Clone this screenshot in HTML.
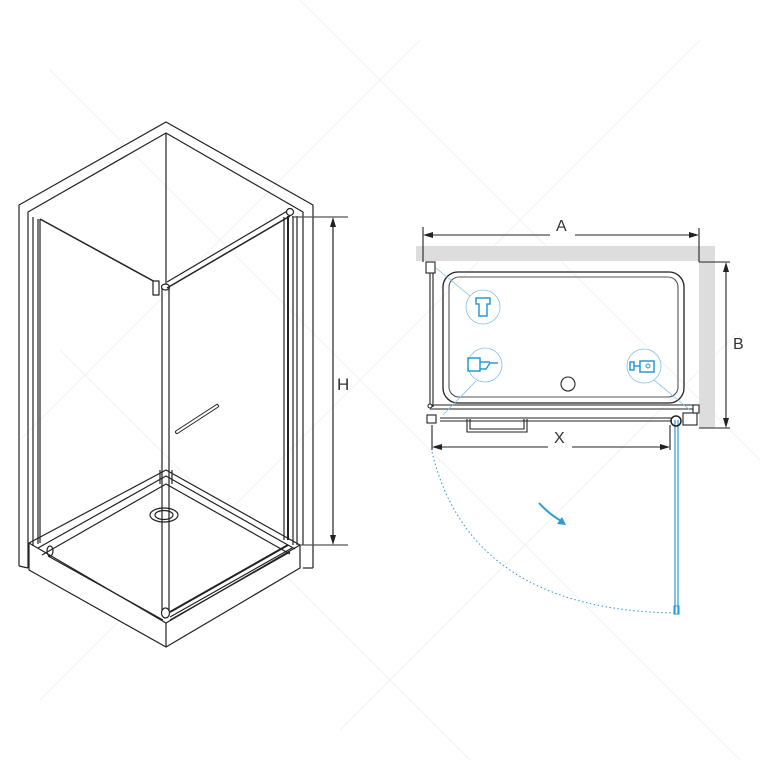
<!DOCTYPE html>
<html><head><meta charset="utf-8"><style>
html,body{margin:0;padding:0;background:#fff;}
svg{display:block;}
text{font-family:"Liberation Sans",sans-serif;}
</style></head><body>
<svg width="769" height="769" viewBox="0 0 769 769" xmlns="http://www.w3.org/2000/svg">
<g stroke="#f5f5f5" stroke-width="1.5" fill="none">
<line x1="50" y1="70" x2="740" y2="760"/><line x1="300" y1="0" x2="760" y2="460"/><line x1="60" y1="350" x2="470" y2="760"/>
<line x1="700" y1="40" x2="40" y2="700"/><line x1="420" y1="40" x2="20" y2="440"/><line x1="740" y1="330" x2="340" y2="730"/>
</g>
<!-- LEFT DRAWING -->
<g stroke="#222" stroke-width="1.2" fill="none" stroke-linejoin="round">
<polyline points="19,566 19,205 166,122 313,205 313,568"/>
<polyline points="28,568 28,212 166,133 303,212 303,545"/>
<line x1="19" y1="566" x2="28" y2="568"/>
<line x1="303" y1="568" x2="313" y2="568"/>
<line x1="166" y1="133" x2="166" y2="285"/>
<polygon points="29,543 166,470 300,545 300,568 166,647 29,570" fill="#fff"/>
<polyline points="29,543 166,623 300,545"/>
<line x1="166" y1="623" x2="166" y2="647"/>
<polyline points="38,548 166,476 295,549"/>
<polyline points="42,555 166,484 290,554"/>
<polyline points="48,556 163,620"/>
<polyline points="170,620 290,552"/>
<line x1="160" y1="484" x2="160" y2="470"/><line x1="172" y1="484" x2="172" y2="470"/>
<ellipse cx="164" cy="515" rx="14" ry="7"/>
<ellipse cx="164" cy="515" rx="9" ry="4.5"/>
<ellipse cx="50" cy="551" rx="3" ry="5"/>
<line x1="33" y1="217" x2="33" y2="546"/>
<line x1="38" y1="219" x2="38" y2="544"/>
<line x1="40" y1="219" x2="40" y2="543"/>
<line x1="40" y1="219" x2="157" y2="283" stroke-width="1.5"/>
<rect x="153" y="281" width="6" height="14" fill="#fff"/>
<line x1="162" y1="287" x2="162" y2="612"/>
<line x1="169" y1="287" x2="169" y2="612"/>
<ellipse cx="165.5" cy="287" rx="4" ry="3" fill="#fff"/>
<ellipse cx="165.5" cy="613" rx="4" ry="5" fill="#fff"/>
<line x1="167" y1="282" x2="289" y2="210"/>
<line x1="167" y1="288" x2="290" y2="216" stroke-width="1.5"/>
<circle cx="290" cy="212" r="3.5" fill="#fff"/>
<line x1="284" y1="217" x2="284" y2="540"/>
<line x1="288" y1="216" x2="288" y2="540" stroke-width="2"/>
<line x1="293" y1="216" x2="293" y2="545"/>
<line x1="297" y1="216" x2="297" y2="545"/>
<line x1="170" y1="612" x2="288" y2="545" stroke-width="2"/>
<line x1="170" y1="617" x2="292" y2="548"/>
<line x1="177" y1="432" x2="217" y2="406" stroke-width="4" stroke-linecap="round"/>
<line x1="177" y1="432" x2="217" y2="406" stroke="#fff" stroke-width="2" stroke-linecap="round"/>
<line x1="292" y1="217" x2="348" y2="217" stroke="#555"/>
<line x1="300" y1="545" x2="348" y2="545" stroke="#555"/>
<line x1="333" y1="222" x2="333" y2="540"/>
</g>
<polygon points="333,217 330,227 336,227" fill="#222"/>
<polygon points="333,545 330,535 336,535" fill="#222"/>
<text x="337" y="390" font-size="17" fill="#333">H</text>

<!-- RIGHT DRAWING -->
<rect x="416" y="246" width="299" height="15" fill="#ddd"/>
<rect x="699" y="246" width="16" height="182" fill="#ddd"/>
<g stroke="#222" stroke-width="1.1" fill="none">
<line x1="423" y1="227" x2="423" y2="262"/>
<line x1="699" y1="228" x2="699" y2="262"/>
<line x1="428" y1="235" x2="550" y2="235"/><line x1="575" y1="235" x2="694" y2="235"/>
<line x1="699" y1="262" x2="730" y2="262"/>
<line x1="699" y1="428" x2="730" y2="428"/>
<line x1="726" y1="267" x2="726" y2="423"/>
<rect x="443" y="272" width="241" height="131" rx="15" stroke-width="1.3"/>
<rect x="449" y="277" width="229" height="120" rx="10" stroke="#555"/>
<circle cx="568" cy="384" r="7"/>
<line x1="430" y1="272" x2="430" y2="407"/>
<line x1="433" y1="272" x2="433" y2="407"/>
<rect x="426" y="262" width="9" height="11" fill="#fff"/>
<line x1="430" y1="405" x2="699" y2="405"/>
<line x1="430" y1="409" x2="699" y2="409"/>
<line x1="440" y1="418" x2="672" y2="418"/>
<line x1="440" y1="421" x2="672" y2="421"/>
<rect x="427" y="415" width="9" height="8" fill="#fff"/>
<circle cx="430" cy="406" r="2" fill="#fff"/>
<path d="M467,419 V432 H527 V419"/>
<path d="M470,419 V429 H524 V419"/>
<rect x="683" y="413" width="14" height="12" fill="#fff"/>
<rect x="693" y="405" width="6" height="8" fill="#fff"/>
<line x1="432" y1="425" x2="432" y2="450"/>
<line x1="670" y1="425" x2="670" y2="450"/>
<line x1="437" y1="447" x2="548" y2="447"/><line x1="572" y1="447" x2="665" y2="447"/>
</g>
<polygon points="423,235 433,232 433,238" fill="#222"/>
<polygon points="699,235 689,232 689,238" fill="#222"/>
<polygon points="726,262 723,272 729,272" fill="#222"/>
<polygon points="726,428 723,418 729,418" fill="#222"/>
<polygon points="432,447 442,444 442,450" fill="#222"/>
<polygon points="670,447 660,444 660,450" fill="#222"/>
<text x="556" y="231" font-size="16" fill="#333">A</text>
<text x="733" y="349" font-size="16" fill="#333">B</text>
<text x="554" y="443" font-size="16" fill="#333">X</text>
<g stroke="#2a9ad8" fill="none">
<line x1="675" y1="420" x2="675" y2="614" stroke-width="1.2"/>
<line x1="678" y1="420" x2="678" y2="614" stroke-width="1.2"/>
<rect x="674" y="606" width="5" height="8"/>
<circle cx="676" cy="421" r="5" stroke="#222" stroke-width="1.5"/>
<path d="M432,452 Q470,610 675,613" stroke-dasharray="1.5,2.5" stroke-width="1"/>
<path d="M539,503 Q550,515 563,522" stroke-width="2"/>
<circle cx="483" cy="307" r="17" stroke-width="0.8" stroke="#7cc0ea"/>
<circle cx="485" cy="365" r="17" stroke-width="0.8" stroke="#7cc0ea"/>
<circle cx="644" cy="366" r="17" stroke-width="0.8" stroke="#7cc0ea"/>
<line x1="436" y1="268" x2="470" y2="296" stroke-width="0.8" stroke="#7cc0ea"/>
<line x1="476" y1="381" x2="443" y2="415" stroke-width="0.8" stroke="#7cc0ea"/>
<line x1="654" y1="380" x2="690" y2="410" stroke-width="0.8" stroke="#7cc0ea"/>
<path d="M476,298 h14 v6 h-3 v12 h-8 v-12 h-3z" stroke-width="1.5"/>
<path d="M468,358 h12 v13 h-12z M480,362 h10 M480,369 h6 l4,-6 h8" stroke-width="1.5"/>
<path d="M630,362 h4 v8 h-4z M634,366 h6 M640,361 h14 v11 h-14z" stroke-width="1.5"/>
<circle cx="648" cy="366" r="2"/>
</g>
<polygon points="566,525 557,524 562,517" fill="#2a9ad8"/>
</svg>
</body></html>
